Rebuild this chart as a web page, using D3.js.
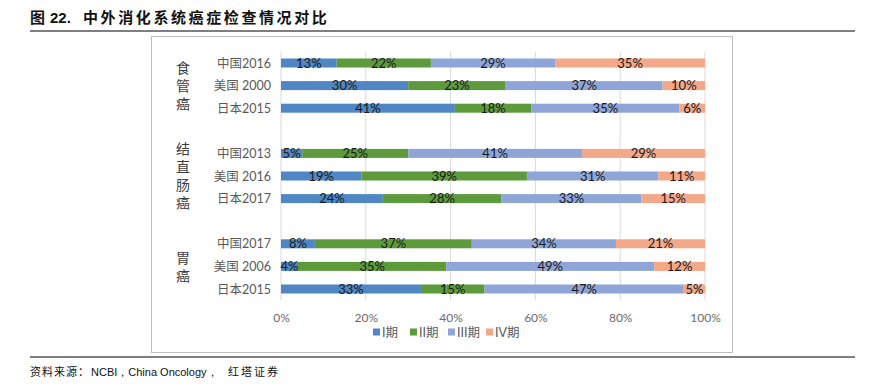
<!DOCTYPE html>
<html>
<head>
<meta charset="utf-8">
<script src="https://cdn.jsdelivr.net/npm/d3@7"></script>
<style>
  body { margin: 0; background: #fff; }
  svg text { font-family: Lato, "Noto Sans CJK SC", sans-serif; }
</style>
</head>
<body>
<div id="chart"></div>
<script>
// data
var rowLabels = ["中国2016", "美国 2000", "日本2015",
                 "中国2013", "美国 2016", "日本2017",
                 "中国2017", "美国 2006", "日本2015"];
var rowGroup = [0, 0, 0, 1, 1, 1, 2, 2, 2];
var groupNames = ["食管癌", "结直肠癌", "胃癌"];
var stageNames = ["I期", "II期", "III期", "IV期"];
var stage1 = [13, 30, 41, 5, 19, 24, 8, 4, 33];
var stage2 = [22, 23, 18, 25, 39, 28, 37, 35, 15];
var stage3 = [29, 37, 35, 41, 31, 33, 34, 49, 47];
var stage4 = [35, 10, 6, 29, 11, 15, 21, 12, 5];
var xTicks = [0, 0.2, 0.4, 0.6, 0.8, 1];

var colors = ["#4f86c3", "#5c9a3b", "#8fa5d7", "#f3a889"];

var width = 870, height = 384;

var svg = d3.select("#chart").append("svg")
    .attr("width", width)
    .attr("height", height);

var cjk = "\"Noto Sans CJK SC\", sans-serif";
var latin = "\"Liberation Sans\", Arial, sans-serif";

// title
var title = svg.append("text")
    .attr("x", 30).attr("y", 23)
    .style("font-weight", "bold")
    .style("font-size", "15px")
    .attr("fill", "#111");
title.append("tspan").style("font-family", cjk).text("图");
title.append("tspan").attr("x", 50).style("font-family", latin).text("22.");
title.append("tspan").attr("x", 83).style("font-family", cjk)
    .style("letter-spacing", "2.6px").text("中外消化系统癌症检查情况对比");

svg.append("line").attr("x1", 30).attr("x2", 855).attr("y1", 31).attr("y2", 31)
    .attr("stroke", "#000").attr("stroke-width", 1.2);
svg.append("line").attr("x1", 30).attr("x2", 855).attr("y1", 357).attr("y2", 357)
    .attr("stroke", "#000").attr("stroke-width", 1.2);

// source
var src = svg.append("text")
    .attr("x", 30).attr("y", 376)
    .style("font-size", "11px")
    .attr("fill", "#111");
src.append("tspan").style("font-family", cjk).style("letter-spacing", "1px").text("资料来源：");
src.append("tspan").attr("x", 91).style("font-family", latin).text("NCBI，China Oncology，");
src.append("tspan").attr("x", 228).style("font-family", cjk).style("letter-spacing", "2px").text("红塔证券");

// chart frame
svg.append("rect")
    .attr("x", 151.5).attr("y", 36.5)
    .attr("width", 581).attr("height", 316)
    .attr("fill", "#fff").attr("stroke", "#bfbfbf");

// scales: 11 slots, blank slots between groups
var slots = [];
rowLabels.forEach(function(d, i) {
  if (i > 0 && rowGroup[i] != rowGroup[i - 1]) slots.push("gap" + i);
  slots.push("r" + i);
});

var x = d3.scaleLinear().domain([0, 1]).range([281, 705]);
var y = d3.scaleBand().domain(slots).range([51.7, 300.3]).padding(0);
var barH = 9;

function cy(i) { return y("r" + i) + y.bandwidth() / 2; }

// gridlines
svg.append("g")
    .selectAll("line")
    .data(xTicks)
    .enter().append("line")
    .attr("x1", function(d) { return x(d); })
    .attr("x2", function(d) { return x(d); })
    .attr("y1", y.range()[0])
    .attr("y2", y.range()[1])
    .attr("stroke", "#d9d9d9");

// x axis labels
var xAxis = d3.axisBottom(x).tickValues(xTicks).tickSize(0).tickFormat(d3.format(".0%"));
var ax = svg.append("g").attr("transform", "translate(0,310)").call(xAxis);
ax.select(".domain").remove();
ax.selectAll("text").attr("fill", "#6b6b6b").style("font-size", "12px")
    .style("font-family", "Lato, sans-serif");

// stacked data
var table = rowLabels.map(function(d, i) {
  return { label: d, i: i, s0: stage1[i], s1: stage2[i], s2: stage3[i], s3: stage4[i] };
});
var stack = d3.stack().keys(["s0", "s1", "s2", "s3"]).offset(d3.stackOffsetExpand);
var series = stack(table);

var layers = svg.append("g").selectAll("g")
    .data(series)
    .enter().append("g")
    .attr("fill", function(d, k) { return colors[k]; });

layers.selectAll("rect")
    .data(function(d) { return d; })
    .enter().append("rect")
    .attr("x", function(d) { return x(d[0]); })
    .attr("width", function(d) { return x(d[1]) - x(d[0]); })
    .attr("y", function(d) { return cy(d.data.i) - barH / 2; })
    .attr("height", barH);

// value labels
series.forEach(function(s) {
  svg.append("g").selectAll("text")
    .data(s)
    .enter().append("text")
    .attr("x", function(d) { return (x(d[0]) + x(d[1])) / 2; })
    .attr("y", function(d) { return cy(d.data.i) + 4.5; })
    .attr("text-anchor", "middle")
    .attr("fill", "#1a1a1a")
    .style("font-size", "13px")
    .text(function(d) { return d.data[s.key] + "%"; });
});

// row labels
svg.append("g").selectAll("text")
    .data(rowLabels)
    .enter().append("text")
    .attr("x", 271)
    .attr("y", function(d, i) { return cy(i) + 4.5; })
    .attr("text-anchor", "end")
    .attr("fill", "#595959")
    .style("font-size", "12.5px")
    .text(function(d) { return d; });

// group labels, written vertically
groupNames.forEach(function(name, g) {
  var idx = rowGroup.map(function(v, i) { return v == g ? i : -1; }).filter(function(i) { return i >= 0; });
  var mid = (cy(idx[0]) + cy(idx[idx.length - 1])) / 2;
  var step = 18;
  var total = name.length * step - (step - 14);
  svg.append("text")
    .attr("x", 183)
    .attr("y", mid - total / 2)
    .style("writing-mode", "vertical-rl")
    .style("letter-spacing", (step - 14) + "px")
    .attr("fill", "#404040")
    .style("font-family", cjk)
    .style("font-size", "14px")
    .text(name);
});

// legend
var legendX = [373, 410, 448, 486];
var leg = svg.append("g").selectAll("g")
    .data(stageNames)
    .enter().append("g")
    .attr("transform", function(d, k) { return "translate(" + legendX[k] + ",332)"; });
leg.append("rect")
    .attr("x", 0).attr("y", -3.5)
    .attr("width", 7).attr("height", 7)
    .attr("fill", function(d, k) { return colors[k]; });
leg.append("text")
    .attr("x", 9).attr("y", 4.5)
    .attr("fill", "#595959")
    .style("font-size", "12.5px")
    .text(function(d) { return d; });
</script>
</body>
</html>
